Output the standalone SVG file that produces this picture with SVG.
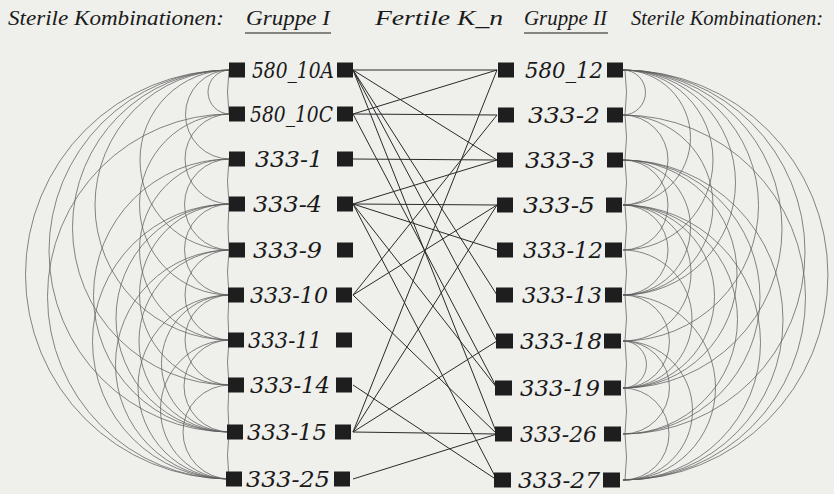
<svg xmlns="http://www.w3.org/2000/svg" width="834" height="494" viewBox="0 0 834 494">
<style>
.bg{fill:#efefec}
.arc{fill:none;stroke:#5e5e5e;stroke-width:0.75}
.fl{fill:none;stroke:#2a2a2a;stroke-width:1}
.sq{fill:#1e1e1e}
.lbl{font-family:"DejaVu Serif","Liberation Serif",serif;font-style:italic;font-size:23px;fill:#1a1a1a}
.hdr{font-family:"Liberation Serif","DejaVu Serif",serif;font-style:italic;font-size:20px;fill:#1a1a1a}
.ul{stroke:#1a1a1a;stroke-width:1.2}
</style>
<rect class="bg" x="0" y="0" width="834" height="494"/>
<g id="headers">
<text class="hdr" x="8" y="25" textLength="216" lengthAdjust="spacingAndGlyphs">Sterile Kombinationen:</text>
<text class="hdr" x="246" y="25" textLength="84" lengthAdjust="spacingAndGlyphs">Gruppe I</text>
<line class="ul" x1="245" y1="33" x2="331" y2="33"/>
<text class="hdr" x="375" y="25" textLength="128" lengthAdjust="spacingAndGlyphs">Fertile K_n</text>
<text class="hdr" x="524" y="25" textLength="83" lengthAdjust="spacingAndGlyphs">Gruppe II</text>
<line class="ul" x1="524" y1="33" x2="608" y2="33"/>
<text class="hdr" x="631" y="25" textLength="192" lengthAdjust="spacingAndGlyphs">Sterile Kombinationen:</text>
</g>
<g id="connectors">
<g id="sterile-I">
<path class="arc" d="M230,70 A204.5,204.5 0 0 0 230,479"/>
<path class="arc" d="M230,70 A181,181 0 0 0 230,432"/>
<path class="arc" d="M230,70 A157.5,157.5 0 0 0 230,385"/>
<path class="arc" d="M230,70 A135,135 0 0 0 230,340"/>
<path class="arc" d="M230,70 A90,90 0 0 0 230,250"/>
<path class="arc" d="M230,70 A44.5,44.5 0 0 0 230,159"/>
<path class="arc" d="M230,70 A22,22 0 0 0 230,114"/>
<path class="arc" d="M230,114 A182.5,182.5 0 0 0 230,479"/>
<path class="arc" d="M230,114 A90.5,90.5 0 0 0 230,295"/>
<path class="arc" d="M230,114 A45,45 0 0 0 230,204"/>
<path class="arc" d="M230,159 A136.5,136.5 0 0 0 230,432"/>
<path class="arc" d="M230,159 A90.5,90.5 0 0 0 230,340"/>
<path class="arc" d="M230,159 A45.5,45.5 0 0 0 230,250"/>
<path class="arc" d="M230,204 A137.5,137.5 0 0 0 230,479"/>
<path class="arc" d="M230,204 A114,114 0 0 0 230,432"/>
<path class="arc" d="M230,204 A90.5,90.5 0 0 0 230,385"/>
<path class="arc" d="M230,204 A45.5,45.5 0 0 0 230,295"/>
<path class="arc" d="M230,250 A114.5,114.5 0 0 0 230,479"/>
<path class="arc" d="M230,250 A91,91 0 0 0 230,432"/>
<path class="arc" d="M230,250 A45,45 0 0 0 230,340"/>
<path class="arc" d="M230,295 A92,92 0 0 0 230,479"/>
<path class="arc" d="M230,295 A68.5,68.5 0 0 0 230,432"/>
<path class="arc" d="M230,295 A45,45 0 0 0 230,385"/>
<path class="arc" d="M230,340 A69.5,69.5 0 0 0 230,479"/>
<path class="arc" d="M230,340 A46,46 0 0 0 230,432"/>
<path class="arc" d="M230,385 A47,47 0 0 0 230,479"/>
<path class="arc" d="M229,70 Q226,92 229,114 M229,159 Q226,181 229,204 Q227,227 229,250 Q226,272 229,295 Q227,317 229,340 Q226,362 229,385 Q227,408 229,432 Q226,455 229,479"/>
</g>
<g id="sterile-II">
<path class="arc" d="M623,70 A205,205 0 0 1 623,480"/>
<path class="arc" d="M623,70 A182,182 0 0 1 623,434"/>
<path class="arc" d="M623,70 A159,159 0 0 1 623,388"/>
<path class="arc" d="M623,70 A135.5,135.5 0 0 1 623,341"/>
<path class="arc" d="M623,70 A112.5,112.5 0 0 1 623,295"/>
<path class="arc" d="M623,70 A90,90 0 0 1 623,250"/>
<path class="arc" d="M623,70 A67.5,67.5 0 0 1 623,205"/>
<path class="arc" d="M623,70 A22.5,22.5 0 0 1 623,115"/>
<path class="arc" d="M623,115 A182.5,182.5 0 0 1 623,480"/>
<path class="arc" d="M623,115 A90,90 0 0 1 623,295"/>
<path class="arc" d="M623,115 A45,45 0 0 1 623,205"/>
<path class="arc" d="M623,160 A160,160 0 0 1 623,480"/>
<path class="arc" d="M623,160 A137,137 0 0 1 623,434"/>
<path class="arc" d="M623,160 A114,114 0 0 1 623,388"/>
<path class="arc" d="M623,160 A67.5,67.5 0 0 1 623,295"/>
<path class="arc" d="M623,160 A45,45 0 0 1 623,250"/>
<path class="arc" d="M623,205 A137.5,137.5 0 0 1 623,480"/>
<path class="arc" d="M623,205 A114.5,114.5 0 0 1 623,434"/>
<path class="arc" d="M623,205 A91.5,91.5 0 0 1 623,388"/>
<path class="arc" d="M623,205 A68,68 0 0 1 623,341"/>
<path class="arc" d="M623,205 A45,45 0 0 1 623,295"/>
<path class="arc" d="M623,250 A69,69 0 0 1 623,388"/>
<path class="arc" d="M623,295 A92.5,92.5 0 0 1 623,480"/>
<path class="arc" d="M623,295 A46.5,46.5 0 0 1 623,388"/>
<path class="arc" d="M623,341 A69.5,69.5 0 0 1 623,480"/>
<path class="arc" d="M623,341 A46.5,46.5 0 0 1 623,434"/>
<path class="arc" d="M623,341 A23.5,23.5 0 0 1 623,388"/>
<path class="arc" d="M623,388 A46,46 0 0 1 623,480"/>
<path class="arc" d="M625,70 Q628,92 625,115 Q628,137 625,160 Q628,182 625,205 Q628,227 625,250 Q628,272 625,295 Q628,318 625,341 Q628,364 625,388 Q628,411 625,434 Q628,457 625,480"/>
</g>
<g id="fertile">
<path class="fl" d="M353,70 L497,70"/>
<path class="fl" d="M353,70 L497,160"/>
<path class="fl" d="M353,70 L497,295"/>
<path class="fl" d="M353,70 L497,341"/>
<path class="fl" d="M353,70 L497,434"/>
<path class="fl" d="M353,114 L497,70"/>
<path class="fl" d="M353,114 L497,115"/>
<path class="fl" d="M353,114 L497,388"/>
<path class="fl" d="M353,159 L497,160"/>
<path class="fl" d="M353,204 L497,160"/>
<path class="fl" d="M353,204 L497,205"/>
<path class="fl" d="M353,204 L497,250"/>
<path class="fl" d="M353,204 L497,388"/>
<path class="fl" d="M353,204 L497,480"/>
<path class="fl" d="M353,295 L497,115"/>
<path class="fl" d="M353,295 L497,205"/>
<path class="fl" d="M353,295 L497,434"/>
<path class="fl" d="M353,385 L497,480"/>
<path class="fl" d="M353,432 L497,70"/>
<path class="fl" d="M353,432 L497,205"/>
<path class="fl" d="M353,432 L497,341"/>
<path class="fl" d="M353,432 L497,434"/>
<path class="fl" d="M353,479 L497,434"/>
</g>
</g>
<g id="gruppe-I">
<g id="n580-10A"><rect class="sq" x="229" y="62.5" width="16" height="15"/><rect class="sq" x="337" y="62.5" width="16" height="15"/><text class="lbl" x="252" y="78" textLength="82" lengthAdjust="spacingAndGlyphs">580_10A</text></g>
<g id="n580-10C"><rect class="sq" x="229" y="106.5" width="16" height="15"/><rect class="sq" x="337" y="106.5" width="16" height="15"/><text class="lbl" x="250" y="122" textLength="83" lengthAdjust="spacingAndGlyphs">580_10C</text></g>
<g id="n333-1"><rect class="sq" x="229" y="151.5" width="16" height="15"/><rect class="sq" x="337" y="151.5" width="16" height="15"/><text class="lbl" x="255" y="167" textLength="68" lengthAdjust="spacingAndGlyphs">333-1</text></g>
<g id="n333-4"><rect class="sq" x="229" y="196.5" width="16" height="15"/><rect class="sq" x="337" y="196.5" width="16" height="15"/><text class="lbl" x="253" y="212" textLength="69" lengthAdjust="spacingAndGlyphs">333-4</text></g>
<g id="n333-9"><rect class="sq" x="229" y="242.5" width="16" height="15"/><rect class="sq" x="337" y="242.5" width="16" height="15"/><text class="lbl" x="253" y="258" textLength="69" lengthAdjust="spacingAndGlyphs">333-9</text></g>
<g id="n333-10"><rect class="sq" x="228" y="287.5" width="16" height="15"/><rect class="sq" x="336" y="287.5" width="16" height="15"/><text class="lbl" x="250" y="303" textLength="78" lengthAdjust="spacingAndGlyphs">333-10</text></g>
<g id="n333-11"><rect class="sq" x="228" y="332.5" width="16" height="15"/><rect class="sq" x="336" y="332.5" width="16" height="15"/><text class="lbl" x="248" y="348" textLength="74" lengthAdjust="spacingAndGlyphs">333-11</text></g>
<g id="n333-14"><rect class="sq" x="228" y="377.5" width="16" height="15"/><rect class="sq" x="336" y="377.5" width="16" height="15"/><text class="lbl" x="250" y="393" textLength="80" lengthAdjust="spacingAndGlyphs">333-14</text></g>
<g id="n333-15"><rect class="sq" x="227" y="424.5" width="16" height="15"/><rect class="sq" x="335" y="424.5" width="16" height="15"/><text class="lbl" x="247" y="440" textLength="80" lengthAdjust="spacingAndGlyphs">333-15</text></g>
<g id="n333-25"><rect class="sq" x="226" y="471.5" width="16" height="15"/><rect class="sq" x="334" y="471.5" width="16" height="15"/><text class="lbl" x="246" y="487" textLength="84" lengthAdjust="spacingAndGlyphs">333-25</text></g>
</g>
<g id="gruppe-II">
<g id="n580-12"><rect class="sq" x="498" y="62.5" width="16" height="15"/><rect class="sq" x="607" y="62.5" width="16" height="15"/><text class="lbl" x="525" y="78" textLength="78" lengthAdjust="spacingAndGlyphs">580_12</text></g>
<g id="n333-2"><rect class="sq" x="498" y="107.5" width="16" height="15"/><rect class="sq" x="607" y="107.5" width="16" height="15"/><text class="lbl" x="528" y="123" textLength="72" lengthAdjust="spacingAndGlyphs">333-2</text></g>
<g id="n333-3"><rect class="sq" x="497" y="152.5" width="16" height="15"/><rect class="sq" x="607" y="152.5" width="16" height="15"/><text class="lbl" x="525" y="168" textLength="70" lengthAdjust="spacingAndGlyphs">333-3</text></g>
<g id="n333-5"><rect class="sq" x="497" y="197.5" width="16" height="15"/><rect class="sq" x="606" y="197.5" width="16" height="15"/><text class="lbl" x="523" y="213" textLength="72" lengthAdjust="spacingAndGlyphs">333-5</text></g>
<g id="n333-12"><rect class="sq" x="497" y="242.5" width="16" height="15"/><rect class="sq" x="605" y="242.5" width="17" height="15"/><text class="lbl" x="523" y="258" textLength="80" lengthAdjust="spacingAndGlyphs">333-12</text></g>
<g id="n333-13"><rect class="sq" x="496" y="287.5" width="17" height="15"/><rect class="sq" x="605" y="287.5" width="17" height="15"/><text class="lbl" x="522" y="303" textLength="80" lengthAdjust="spacingAndGlyphs">333-13</text></g>
<g id="n333-18"><rect class="sq" x="496" y="333.5" width="17" height="15"/><rect class="sq" x="604" y="333.5" width="17" height="15"/><text class="lbl" x="520" y="349" textLength="82" lengthAdjust="spacingAndGlyphs">333-18</text></g>
<g id="n333-19"><rect class="sq" x="495" y="380.5" width="17" height="15"/><rect class="sq" x="604" y="380.5" width="17" height="15"/><text class="lbl" x="520" y="396" textLength="80" lengthAdjust="spacingAndGlyphs">333-19</text></g>
<g id="n333-26"><rect class="sq" x="495" y="426.5" width="17" height="15"/><rect class="sq" x="604" y="426.5" width="17" height="15"/><text class="lbl" x="520" y="442" textLength="77" lengthAdjust="spacingAndGlyphs">333-26</text></g>
<g id="n333-27"><rect class="sq" x="494" y="472.5" width="17" height="15"/><rect class="sq" x="603" y="472.5" width="17" height="15"/><text class="lbl" x="518" y="488" textLength="82" lengthAdjust="spacingAndGlyphs">333-27</text></g>
</g>
</svg>
